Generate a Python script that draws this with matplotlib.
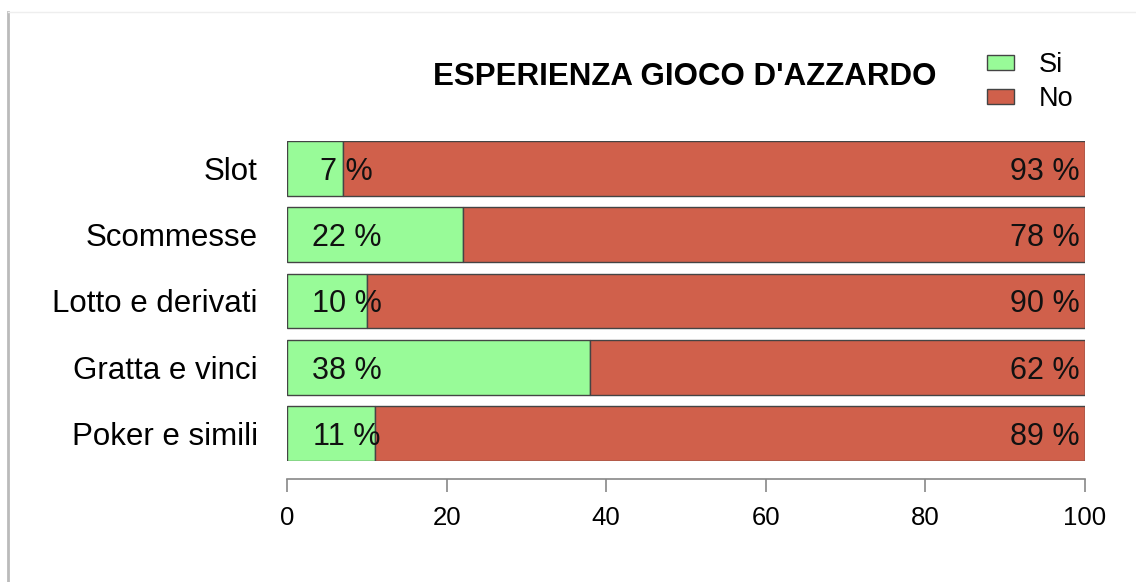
import matplotlib
matplotlib.use("Agg")
import matplotlib.pyplot as plt
from matplotlib.lines import Line2D
from matplotlib.patches import Patch

plt.rcParams['font.family'] = ['Liberation Sans', 'DejaVu Sans']

categorie = ['Slot', 'Scommesse', 'Lotto e derivati', 'Gratta e vinci', 'Poker e simili']
si = [7, 22, 10, 38, 11]
no = [93, 78, 90, 62, 89]
ticks = [0, 20, 40, 60, 80, 100]

verde = '#98FB98'
rosso = '#D0604B'

fig = plt.figure(figsize=(11.36, 5.82), dpi=100)
W, H = 1136, 582
ax = fig.add_axes([287 / W, 1 - 461 / H, (1085 - 287) / W, (461 - 141) / H])

y = list(range(len(categorie)))
ax.barh(y, si, height=0.83, color=verde, edgecolor='#444444', linewidth=1)
ax.barh(y, no, left=si, height=0.83, color=rosso, edgecolor='#444444', linewidth=1)

for i in y:
    ax.text(7.5, i, f'{si[i]} %', ha='center', va='center_baseline', fontsize=22, color='#111111')
    ax.text(95, i, f'{no[i]} %', ha='center', va='center_baseline', fontsize=22, color='#111111')

ax.spines['bottom'].set_position(('outward', 13))
for s in ['top', 'right', 'left']:
    ax.spines[s].set_visible(False)
ax.spines['bottom'].set_color('#888888')
ax.spines['bottom'].set_linewidth(1.2)

ax.set_xlim(0, 100)
ax.set_ylim(4.415, -0.415)
ax.set_yticks(y)
ax.set_yticklabels(categorie, va='center_baseline')
ax.tick_params(axis='y', length=0, pad=21, labelsize=22.5)
ax.set_xticks(ticks)
ax.set_xticklabels([str(t) for t in ticks])
ax.tick_params(axis='x', length=9, width=1.2, color='#888888', pad=10.5, labelsize=18.5)

fig.text(685 / W, 1 - 77 / H, "ESPERIENZA GIOCO D'AZZARDO", ha='center', va='center',
         fontsize=22.5, fontweight='bold')

handles = [Patch(facecolor=verde, edgecolor='#444444'), Patch(facecolor=rosso, edgecolor='#444444')]
fig.legend(handles, ['Si', 'No'], loc='center left', bbox_to_anchor=(987 / W, 1 - 82 / H),
           frameon=False, fontsize=19.5, handlelength=1.0, handleheight=0.5,
           handletextpad=0.9, labelspacing=0.3, borderaxespad=0, borderpad=0)

# bordo grigio dello screenshot
fig.add_artist(Line2D([8 / W, 8 / W], [0, 1 - 12 / H], color='#bbbbbb', linewidth=2))
fig.add_artist(Line2D([8 / W, 1], [1 - 12 / H, 1 - 12 / H], color='#eeeeee', linewidth=1))

fig.savefig('out.png', dpi=100)
